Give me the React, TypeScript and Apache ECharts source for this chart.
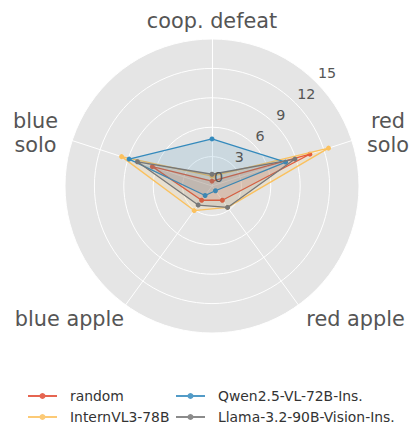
import React, { useEffect, useRef } from "react";
import * as echarts from "echarts";

// Categories, clockwise from the top as drawn in the reference
const categories = ["coop. defeat", "red solo", "red apple", "blue apple", "blue solo"];
const radialTicks = [0, 3, 6, 9, 12, 15];
const seriesNames = ["random", "InternVL3-78B", "Qwen2.5-VL-72B-Ins.", "Llama-3.2-90B-Vision-Ins."];
const randomVals = [0.5, 10.5, 1.8, 1.8, 6.4];
const internVals = [1.0, 12.5, 2.7, 3.1, 9.7];
const qwenVals = [4.8, 7.9, 0.6, 1.2, 8.9];
const llamaVals = [1.2, 8.9, 2.7, 2.4, 8.0];
const colors = ["#E24A33", "#FBC15E", "#348ABD", "#777777"];

const CX = 212;
const CY = 186;
const R = 147;
const RMAX = 15;
const FONT = "DejaVu Sans";

// ECharts radar places indicators counter-clockwise from startAngle,
// so reorder clockwise categories accordingly.
const order = [0, 4, 3, 2, 1];

export default function App() {
  const ref = useRef<HTMLDivElement>(null);
  useEffect(() => {
    if (!ref.current) return;
    const chart = echarts.init(ref.current, null, { renderer: "svg" });
    const allVals = [randomVals, internVals, qwenVals, llamaVals];
    const series = allVals.map((vals, i) => ({
      type: "radar",
      name: seriesNames[i],
      symbol: "circle",
      symbolSize: 5,
      z: 2 + i,
      lineStyle: { color: colors[i], width: 1.3 },
      itemStyle: { color: colors[i] },
      areaStyle: { color: colors[i], opacity: 0.15 },
      data: [{ name: seriesNames[i], value: order.map((k) => vals[k]) }],
    }));

    const textColor = "#555555";
    const graphics: any[] = [];
    // radial tick labels along 45 degrees
    radialTicks.forEach((v) => {
      const d = (v / RMAX) * R;
      graphics.push({
        type: "text",
        x: CX + 2 + d * Math.cos(Math.PI / 4),
        y: CY - 8.7 - d * Math.sin(Math.PI / 4),
        z: 100,
        style: {
          text: String(v),
          fontFamily: FONT,
          fontSize: 14.3,
          fill: textColor,
          align: "left",
          verticalAlign: "middle",
        },
      });
    });
    const names = [
      { t: "coop. defeat", x: 212, y: 20.5 },
      { t: "red\nsolo", x: 388, y: 133 },
      { t: "red apple", x: 355.5, y: 319 },
      { t: "blue apple", x: 69.5, y: 319 },
      { t: "blue\nsolo", x: 35.5, y: 133 },
    ];
    names.forEach((n) => {
      graphics.push({
        type: "text",
        x: n.x,
        y: n.y,
        z: 100,
        style: {
          text: n.t,
          fontFamily: FONT,
          fontSize: 20.8,
          lineHeight: 23.3,
          fill: textColor,
          align: "center",
          verticalAlign: "middle",
        },
      });
    });

    const iconPath =
      "path://M0,2.6 L29,2.6 L29,4.4 L0,4.4 Z M14.5,0.5 A3,3 0 1,1 14.49,0.5 Z";
    const legendCommon = {
      orient: "vertical",
      top: 388,
      padding: 0,
      itemGap: 5,
      itemWidth: 29,
      itemHeight: 6,
      icon: iconPath,
      itemStyle: { opacity: 0.85 },
      textStyle: {
        fontFamily: FONT,
        fontSize: 13.9,
        color: "#333333",
        lineHeight: 16,
        padding: [0, 0, 0, 8],
      },
    };

    chart.setOption({
      animation: false,
      backgroundColor: "#ffffff",
      textStyle: { fontFamily: FONT },
      radar: {
        center: [CX, CY],
        radius: R,
        startAngle: 90,
        shape: "circle",
        splitNumber: 5,
        indicator: order.map((k) => ({ name: categories[k], min: 0, max: RMAX })),
        axisName: { show: false },
        axisLine: { lineStyle: { color: "#ffffff", width: 1 } },
        splitLine: { lineStyle: { color: "#ffffff", width: 1 } },
        splitArea: { areaStyle: { color: ["#E5E5E5"] } },
        axisTick: { show: false },
        axisLabel: { show: false },
      },
      legend: [
        { ...legendCommon, left: 28, data: [seriesNames[0], seriesNames[1]] },
        { ...legendCommon, left: 176, data: [seriesNames[2], seriesNames[3]] },
      ],
      graphic: graphics,
      series,
    });
    return () => chart.dispose();
  }, []);
  return (
    <div
      ref={ref}
      style={{ position: "fixed", left: 0, top: 0, width: 409, height: 426 }}
    />
  );
}
